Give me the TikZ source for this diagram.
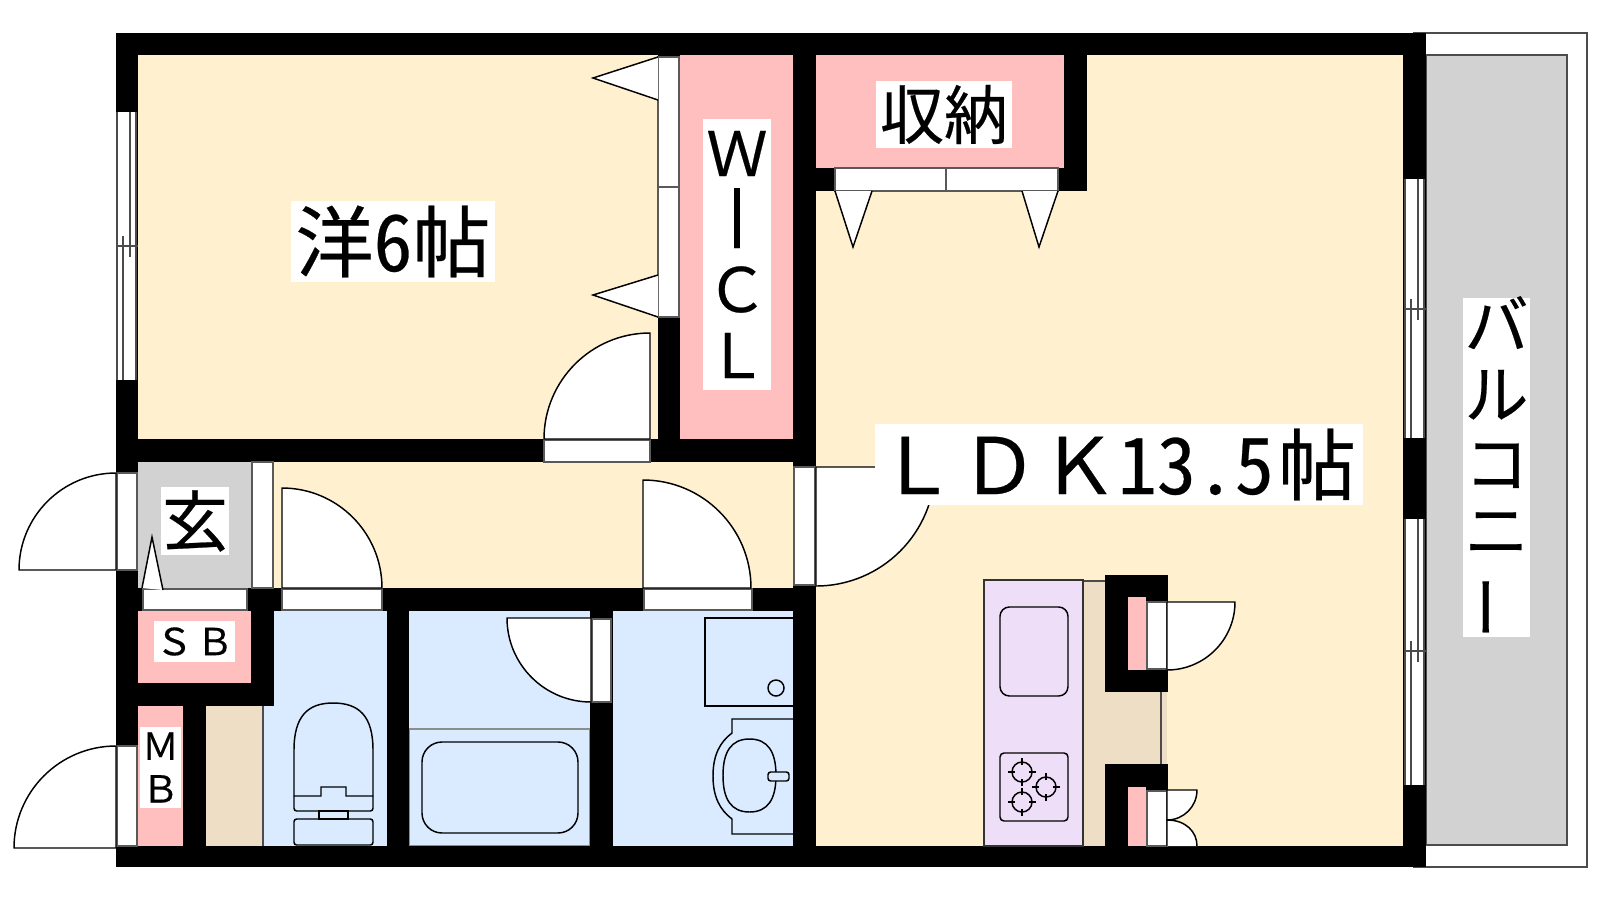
\documentclass[tikz,border=0pt]{standalone}
\usepackage{fontspec}
\setmainfont[FakeBold=0.35]{Noto Sans CJK JP}
\newfontfamily\hw[RawFeature={+hwid},FakeBold=0.35]{Noto Sans CJK JP}
\definecolor{cream}{HTML}{FFF0CF}
\definecolor{pinkroom}{HTML}{FFBFBF}
\definecolor{blueroom}{HTML}{DBEBFF}
\definecolor{grayroom}{HTML}{D2D2D2}
\definecolor{beige}{HTML}{EEDEC6}
\definecolor{purpleroom}{HTML}{EEDEF7}
\def\px{.75pt}
\newcommand\fsz[2]{\fontsize{#1pt}{#2pt}\selectfont}
\tikzset{
  wall/.style={fill=black,draw=none},
  frame/.style={fill=white,draw=black!65,line width=.8pt},
  line1/.style={draw=black,line width=1.1pt},
  thin1/.style={draw=black!70,line width=.8pt},
  lab/.style={fill=white,inner sep=0pt,text=black,align=center},
}
\newcommand\room[5]{\fill[#5] (#1,#2) rectangle (#3,#4);}
\newcommand\wallr[4]{\fill[wall] (#1,#2) rectangle (#3,#4);}
\newcommand\framer[4]{\draw[frame] (#1,#2) rectangle (#3,#4);}
\newcommand\leaf[5]{\draw[line1,fill=white,line join=round] (#1,#2) -- ++(#4:#3*\px) arc[start angle=#4,end angle=#5,radius=#3*\px] -- cycle;}
\newcommand\windowset[4]{%
  \fill[white] (#1,#2) rectangle (#1+21,#4);
  \draw[thin1] (#1+1,#2) -- (#1+1,#4);
  \draw[thin1] (#1+20,#2) -- (#1+20,#4);
  \draw[thin1] (#1+14,#2) -- (#1+14,#3+11);
  \draw[thin1] (#1+7,#3-10) -- (#1+7,#4);
  \draw[thin1] (#1,#3) -- (#1+22,#3);
}
\newcommand\burner[2]{%
  \draw[line1] (#1,#2) circle[radius=10];
  \draw[line1,line width=.8pt] (#1-14,#2) -- (#1-7,#2) (#1+7,#2) -- (#1+14,#2) (#1,#2-14) -- (#1,#2-7) (#1,#2+7) -- (#1,#2+14);
}
\begin{document}
\begin{tikzpicture}[x=.75pt,y=-.75pt]
\useasboundingbox (0,0) rectangle (1600,900);
\fill[white] (0,0) rectangle (1600,900);
% balcony
\draw[thin1] (1413,33) -- (1587,33) -- (1587,867) -- (1413,867);
\draw[thin1,fill=grayroom] (1426,55) rectangle (1567,845);
% rooms
\room{138}{55}{658}{439}{cream}
\room{680}{55}{793}{439}{pinkroom}
\room{816}{55}{1403}{846}{cream}
\room{816}{55}{1064}{168}{pinkroom}
\room{138}{462}{251}{588}{grayroom}
\room{273}{462}{793}{588}{cream}
\room{138}{611}{251}{683}{pinkroom}
\room{138}{706}{183}{846}{pinkroom}
\room{206}{706}{263}{846}{beige}
\room{263}{611}{387}{846}{blueroom}
\room{409}{611}{590}{846}{blueroom}
\room{613}{611}{793}{846}{blueroom}
\room{1083}{581}{1167}{846}{beige}
% walls
\wallr{116}{33}{1426}{55}
\wallr{116}{846}{1426}{867}
\wallr{116}{33}{138}{867}
\wallr{116}{439}{816}{462}
\wallr{658}{55}{680}{439}
\wallr{793}{33}{816}{867}
\wallr{816}{168}{1087}{191}
\wallr{1064}{55}{1087}{191}
\wallr{116}{588}{816}{611}
\wallr{251}{588}{274}{706}
\wallr{116}{683}{274}{706}
\wallr{183}{706}{206}{846}
\wallr{387}{611}{409}{846}
\wallr{590}{611}{613}{846}
\wallr{1403}{33}{1426}{867}
\wallr{1105}{575}{1168}{692}
\wallr{1105}{764}{1168}{846}
\room{1128}{597}{1146}{670}{pinkroom}
\room{1128}{787}{1146}{846}{pinkroom}
% thin room lines
\draw[thin1] (263,706) -- (263,846);
\draw[thin1] (1161,692) -- (1161,764);
\draw[thin1] (1083,581) -- (1105,581);
% windows
\windowset{116}{112}{246}{380}
\windowset{1404}{179}{309}{438}
\windowset{1404}{519}{651}{785}
% door frames
\framer{658}{57}{679}{187}
\framer{658}{187}{679}{317}
\framer{544}{440}{650}{462}
\framer{835}{168}{946}{191}
\framer{946}{168}{1058}{191}
\framer{117}{473}{137}{570}
\framer{117}{746}{137}{846}
\framer{252}{462}{273}{588}
\framer{143}{589}{247}{610}
\framer{282}{589}{382}{610}
\framer{644}{589}{752}{610}
\framer{794}{467}{815}{585}
\framer{592}{619}{611}{702}
\framer{1147}{602}{1167}{669}
\framer{1147}{791}{1167}{846}
% door leaves
\leaf{650}{439}{106}{90}{180}
\leaf{116}{570}{97}{90}{180}
\leaf{116}{848}{102}{90}{180}
\leaf{282}{588}{100}{90}{0}
\leaf{643}{588}{108}{90}{0}
\leaf{816}{467}{119}{0}{-90}
\leaf{591}{618}{84}{180}{270}
\leaf{1167}{602}{68}{0}{-90}
\leaf{1167}{790}{30}{0}{-90}
\draw[line1,fill=white] (1167,846) -- (1167,820) .. controls (1186,820) and (1197,832) .. (1197,846);
% triangles
\draw[line1,fill=white,line join=miter] (658,57) -- (593,78) -- (658,100);
\draw[line1,fill=white] (658,275) -- (593,295) -- (658,317);
\draw[line1,fill=white] (835,191) -- (853,247) -- (872,191);
\draw[line1,fill=white] (1022,191) -- (1039,247) -- (1058,191);
\draw[line1,fill=white] (142,588) -- (152,537) -- (163,590);
% toilet
\draw[line1] (294,796) -- (294,750) .. controls (294,716) and (308,703) .. (333,703) .. controls (359,703) and (373,716) .. (373,750) -- (373,796) -- (346,796) -- (346,787) -- (321,787) -- (321,796) -- cycle;
\draw[line1,rounded corners=2pt] (294,796) -- (294,811) -- (373,811) -- (373,796);
\draw[line1] (319,811) rectangle (348,819);
\draw[line1,rounded corners=2pt] (294,819) rectangle (373,845);
% bath
\draw[thin1] (409,729) -- (590,729);
\draw[draw=black!45,line width=.8pt] (409.5,729) rectangle (589.5,845.5);
\draw[line1,rounded corners=15pt] (422,742) rectangle (578,833);
% wash room
\draw[line1] (793,618) -- (705,618) -- (705,706) -- (793,706);
\draw[line1] (776,688) circle[radius=8];
\draw[line1] (793,719) -- (732,719) -- (732,733) .. controls (720,742) and (713,755) .. (713,776) .. controls (713,797) and (720,810) .. (732,819) -- (732,834) -- (793,834);
\draw[line1] (749.5,739) .. controls (768,739) and (776,752) .. (776,775.5) .. controls (776,799) and (768,812) .. (749.5,812) .. controls (731,812) and (723,799) .. (723,775.5) .. controls (723,752) and (731,739) .. (749.5,739) -- cycle;
\draw[line1,fill=blueroom,rounded corners=2pt] (789,772) -- (768,772) -- (768,781) -- (789,781) -- cycle;
% kitchen
\draw[line1,draw=black!80,fill=purpleroom] (984,580) rectangle (1083,846);
\draw[line1,rounded corners=7pt] (1000,607) rectangle (1068,696);
\draw[line1,rounded corners=3pt] (1000,753) rectangle (1068,821);
\burner{1022}{772}
\burner{1046}{787}
\burner{1022}{802}
% labels
\node[lab,minimum width=204*\px,minimum height=81*\px,font=\fsz{58.5}{60}] (room6) at (393,241.5) {洋{\hw 6}帖};
\node[lab,minimum width=488*\px,minimum height=81*\px,font=\fsz{58.5}{60}] (ldk) at (1119,464.5) {Ｌ\kern3pt Ｄ\kern1.5pt Ｋ{\hw 13.5}\kern3pt 帖\kern3pt};
\node[lab,minimum width=136*\px,minimum height=67*\px,font=\fsz{48}{50}] (storage) at (944,114.5) {収納};
\node[lab,minimum width=68*\px,minimum height=68*\px,font=\fsz{49.5}{50}] (genkan) at (195,521) {玄};
\node[lab,minimum width=81*\px,minimum height=41*\px,font=\fsz{28}{29}] (sb) at (194.5,641.5) {Ｓ\kern2.5pt Ｂ};
\node[lab,minimum width=41*\px,minimum height=81*\px,font=\fsz{28}{32}] (mb) at (160.5,767.5) {Ｍ\\Ｂ};
\node[lab,minimum width=68*\px,minimum height=271*\px,inner ysep=-4pt,font=\fsz{46}{51}] (wic) at (737,254.5) {Ｗ\\[3pt]\scalebox{1}[1.33]{I}\\[-3pt]Ｃ\\[-1.5pt]Ｌ};
\node[lab,minimum width=67*\px,minimum height=339*\px,inner ysep=-8pt,font=\fsz{48}{52}] (balcony) at (1496.5,467.5) {バ\\ル\\コ\\[-2pt]ニ\\[-2pt]\rotatebox[origin=c]{90}{ー}};
\end{tikzpicture}
\end{document}
